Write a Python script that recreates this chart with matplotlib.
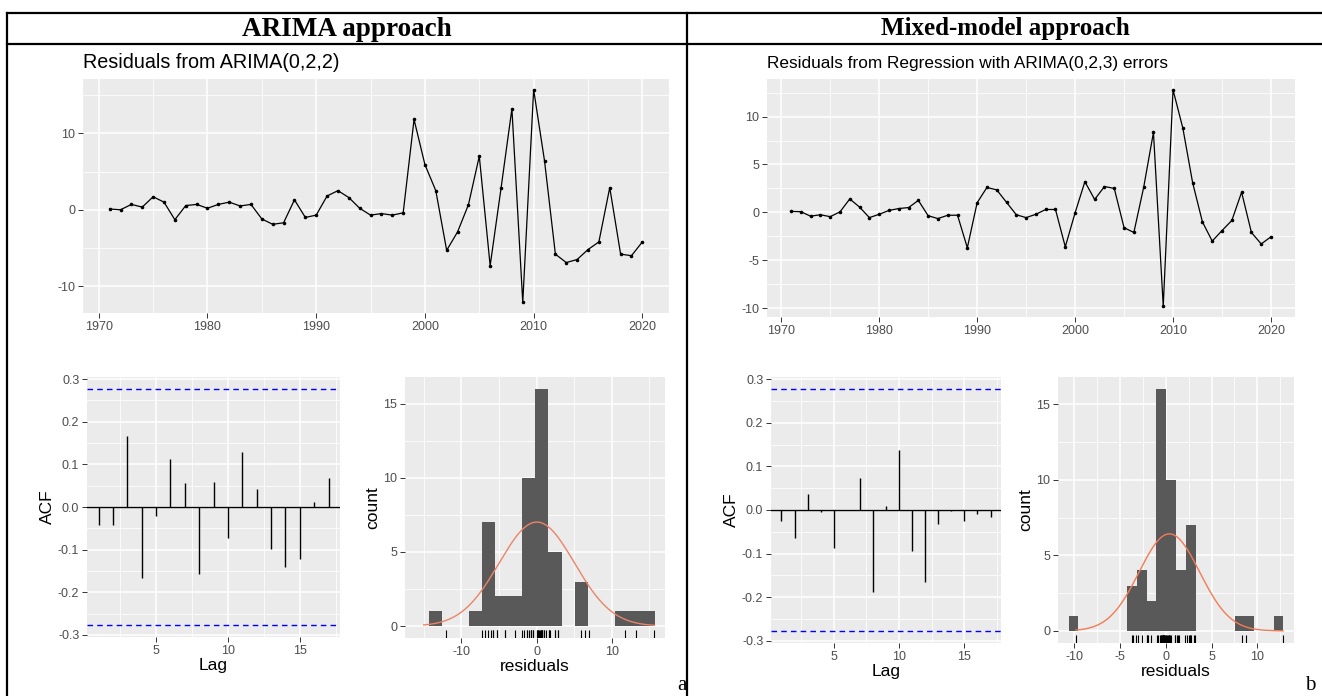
import numpy as np
import matplotlib
matplotlib.use("Agg")
from matplotlib import pyplot as plt
from matplotlib.transforms import blended_transform_factory

# ---- data ----
years = np.arange(1971, 2021)

res_arima = [0.1, 0.0, 0.7, 0.35, 1.7, 1.0, -1.3, 0.55, 0.7, 0.2,
             0.7, 1.0, 0.5, 0.7, -1.2, -1.9, -1.7, 1.3, -1.0, -0.7,
             1.8, 2.5, 1.6, 0.2, -0.7, -0.5, -0.7, -0.4, 11.8, 5.9,
             2.5, -5.3, -2.9, 0.65, 7.0, -7.3, 2.8, 13.2, -12.1, 15.7,
             6.4, -5.8, -6.9, -6.5, -5.2, -4.2, 2.9, -5.8, -6.0, -4.2]

res_mixed = [0.1, 0.07, -0.4, -0.25, -0.45, 0.05, 1.4, 0.55, -0.55, -0.2,
             0.2, 0.4, 0.5, 1.25, -0.35, -0.65, -0.3, -0.3, -3.7, 1.0,
             2.6, 2.35, 1.05, -0.25, -0.55, -0.2, 0.3, 0.3, -3.6, -0.05,
             3.2, 1.35, 2.7, 2.5, -1.6, -2.1, 2.6, 8.35, -9.8, 12.8,
             8.8, 3.1, -1.0, -3.0, -1.9, -0.85, 2.1, -2.1, -3.3, -2.55]

lags = np.arange(1, 18)
acf_arima = [-0.042, -0.042, 0.166, -0.166, -0.020, 0.112, 0.057, -0.158, 0.059,
             -0.073, 0.130, 0.043, -0.098, -0.141, -0.122, 0.012, 0.067]
acf_mixed = [-0.025, -0.065, 0.036, -0.005, -0.087, 0.001, 0.074, -0.189, 0.009,
             0.138, -0.095, -0.165, -0.031, -0.002, -0.026, -0.009, -0.015]

hist_arima_counts = [1, 0, 0, 1, 7, 2, 2, 10, 16, 5, 0, 3, 0, 0, 1, 1, 1]
hist_arima_start, hist_arima_width = -14.3, 1.765
hist_mixed_counts = [1, 0, 0, 0, 0, 0, 3, 4, 2, 16, 10, 4, 7, 0, 0, 0, 0, 1, 1, 0, 0, 1]
hist_mixed_start, hist_mixed_width = -10.6, 1.065

titles = ["Residuals from ARIMA(0,2,2)", "Residuals from Regression with ARIMA(0,2,3) errors"]
headers = ["ARIMA approach", "Mixed-model approach"]

W, H = 1322, 696
plt.rcParams['font.family'] = ['Liberation Sans', 'DejaVu Sans']
plt.rcParams['axes.unicode_minus'] = False
fig = plt.figure(figsize=(W / 100, H / 100), dpi=100)


def box(x0, y0, x1, y1):
    return [x0 / W, 1 - y1 / H, (x1 - x0) / W, (y1 - y0) / H]


def gg(ax, xmaj, xmin, ymaj, ymin):
    ax.set_facecolor('#EBEBEB')
    for s in ax.spines.values():
        s.set_visible(False)
    ax.set_xticks(xmaj)
    ax.set_xticks(xmin, minor=True)
    ax.set_yticks(ymaj)
    ax.set_yticks(ymin, minor=True)
    ax.grid(which='major', color='white', lw=1.1)
    ax.grid(which='minor', color='white', lw=0.55)
    ax.set_axisbelow(True)
    ax.tick_params(which='major', length=3.5, width=0.7, color='#333333',
                   labelcolor='#4D4D4D', labelsize=9, pad=2)
    ax.tick_params(which='minor', length=0)


def expand(lo, hi, f=0.05):
    d = (hi - lo) * f
    return lo - d, hi + d


# background "table"
bg = fig.add_axes([0, 0, 1, 1], zorder=-5)
bg.set_xlim(0, W)
bg.set_ylim(H, 0)
bg.axis('off')
bg.plot([7, W], [13, 13], color='black', lw=1.6)
bg.plot([7, W], [44, 44], color='black', lw=1.6)
bg.plot([7, 7], [13, H], color='black', lw=1.6)
bg.plot([687, 687], [13, H], color='black', lw=1.6)
bg.text(347, 29, headers[0], ha='center', va='center', fontsize=19.5,
        fontweight='bold', family='Liberation Serif')
bg.text(1005, 29, headers[1], ha='center', va='center', fontsize=18,
        fontweight='bold', family='Liberation Serif')
bg.text(682, 686, "a", ha='center', va='center', fontsize=15, family='Liberation Serif')
bg.text(1310, 686, "b", ha='center', va='center', fontsize=15, family='Liberation Serif')

panels = [
    dict(res=res_arima, acf=acf_arima, counts=hist_arima_counts,
         start=hist_arima_start, width=hist_arima_width, title=titles[0], tsize=14.2,
         ts=(83, 79, 669, 313), ac=(87, 377, 340, 637), hi=(405, 377, 665, 638),
         ts_y=([-10, 0, 10], [-5, 5, 15]), hxlim=(-17.5, 17.1),
         hx=([-10, 0, 10], [-15, -5, 5, 15]), curve='#EB8468'),
    dict(res=res_mixed, acf=acf_mixed, counts=hist_mixed_counts,
         start=hist_mixed_start, width=hist_mixed_width, title=titles[1], tsize=12.4,
         ts=(767, 79, 1295, 317), ac=(771, 377, 1001, 643), hi=(1058, 377, 1294, 643),
         ts_y=([-10, -5, 0, 5, 10], [-7.5, -2.5, 2.5, 7.5, 12.5]), hxlim=None,
         hx=([-10, -5, 0, 5, 10], [-12.5, -7.5, -2.5, 2.5, 7.5, 12.5]), curve='#F47B55'),
]

for p in panels:
    res = np.array(p['res'])
    n = len(res)

    # residual time series
    ax = fig.add_axes(box(*p['ts']))
    gg(ax, [1970, 1980, 1990, 2000, 2010, 2020], [1975, 1985, 1995, 2005, 2015],
       p['ts_y'][0], p['ts_y'][1])
    ax.plot(years, res, color='black', lw=0.9)
    ax.scatter(years, res, s=2.5, color='black', zorder=3)
    ax.set_xlim(*expand(years.min(), years.max()))
    ax.set_ylim(*expand(res.min(), res.max()))
    ax.set_title(p['title'], loc='left', fontsize=p['tsize'], pad=8, color='black')

    # ACF
    ax = fig.add_axes(box(*p['ac']))
    ci = 1.96 / np.sqrt(n)
    gg(ax, [5, 10, 15], [2.5, 7.5, 12.5, 17.5],
       [-0.3, -0.2, -0.1, 0.0, 0.1, 0.2, 0.3],
       [-0.25, -0.15, -0.05, 0.05, 0.15, 0.25])
    ax.vlines(lags, 0, p['acf'], color='black', lw=1.0)
    ax.axhline(0, color='black', lw=1.0)
    ax.axhline(ci, color='#0000FF', lw=1.0, ls=(0, (4, 3)))
    ax.axhline(-ci, color='#0000FF', lw=1.0, ls=(0, (4, 3)))
    ax.set_xlim(*expand(lags.min(), lags.max()))
    ax.set_ylim(*expand(-ci, ci))
    ax.set_yticklabels(['-0.3', '-0.2', '-0.1', '0.0', '0.1', '0.2', '0.3'])
    ax.set_xlabel('Lag', fontsize=12.5, labelpad=1)
    ax.set_ylabel('ACF', fontsize=12.5, labelpad=2)

    # histogram with normal curve and rug
    ax = fig.add_axes(box(*p['hi']))
    gg(ax, p['hx'][0], p['hx'][1], [0, 5, 10, 15], [2.5, 7.5, 12.5])
    counts = np.array(p['counts'])
    edges = p['start'] + p['width'] * np.arange(len(counts) + 1)
    ax.bar(edges[:-1], counts, width=p['width'], align='edge', color='#595959', lw=0)
    m, sd = res.mean(), res.std(ddof=1)
    gx = np.linspace(min(res.min(), m - 3 * sd), max(res.max(), m + 3 * sd), 512)
    gy = n * p['width'] * np.exp(-0.5 * ((gx - m) / sd) ** 2) / (sd * np.sqrt(2 * np.pi))
    ax.plot(gx, gy, color=p['curve'], lw=1.0)
    tr = blended_transform_factory(ax.transData, ax.transAxes)
    ax.vlines(res, 0, 0.03, transform=tr, color='black', lw=0.8)
    if p['hxlim']:
        ax.set_xlim(*p['hxlim'])
    else:
        ax.set_xlim(*expand(min(edges[0], gx[0]), max(edges[-1], gx[-1])))
    ax.set_ylim(*expand(0, counts.max()))
    ax.set_xlabel('residuals', fontsize=12.5, labelpad=1)
    ax.set_ylabel('count', fontsize=12.5, labelpad=2)

fig.savefig('out.png', dpi=100)
